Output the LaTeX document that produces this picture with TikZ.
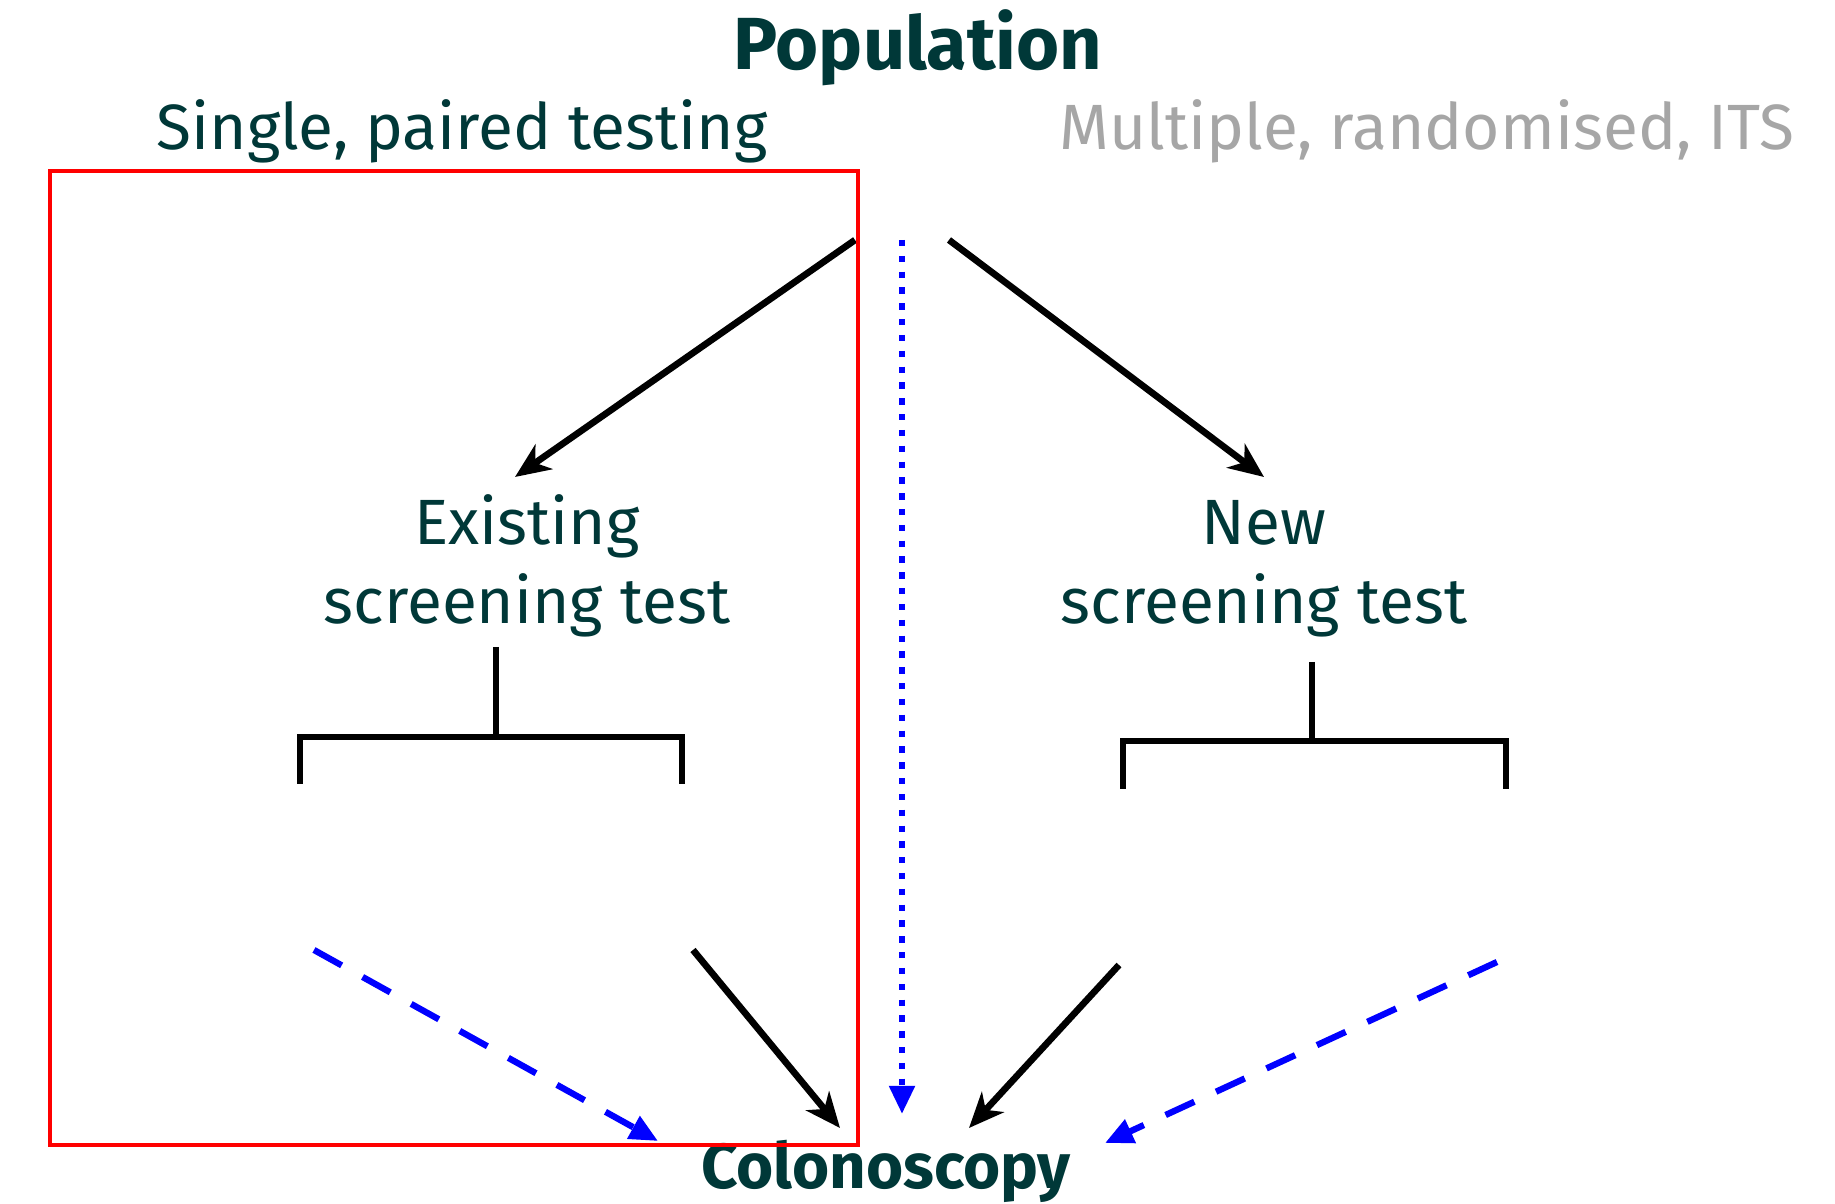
\documentclass[tikz,border=0pt]{standalone}
\usepackage{fontspec}
\setmainfont{Fira Sans}
\usetikzlibrary{arrows.meta}
\definecolor{HeadTeal}{RGB}{0,56,56}
\definecolor{FadeGrey}{RGB}{166,166,166}
\tikzset{
	>={Stealth[length=10pt, width=8.5pt, inset=3pt]},
	flow/.style={black, line width=1.9pt, ->},
	bracket/.style={black, line width=1.8pt},
	crossflow/.style={blue, line width=1.8pt, dash pattern=on 9pt off 6.8pt,
		-{Triangle[length=8pt, width=7pt]}},
	directflow/.style={blue, line width=1.8pt, dash pattern=on 1.8pt off 2.7pt,
		-{Triangle[length=8pt, width=7pt]}},
	studybox/.style={red, line width=1.2pt},
}

\begin{document}
\begin{tikzpicture}[
		x=0.01cm, y=-0.01cm,
		line join=miter,
		title/.style={text=HeadTeal, inner sep=0pt, font=\bfseries\fontsize{21}{25}\selectfont},
		design/.style={inner sep=0pt, font=\fontsize{18.2}{22}\selectfont},
		test/.style={text=HeadTeal, inner sep=0pt, align=center,
			font=\fontsize{18.2}{22.5}\selectfont},
		]
		
		\useasboundingbox (0,0) rectangle (1835,1204);
		
		% Headings
		\node[title, anchor=base] (pop) at (918,70) {Population};
		\node[design, text=HeadTeal, anchor=base] (single) at (462,150) {Single, paired testing};
		\node[design, text=FadeGrey, anchor=base] (multi) at (1427,150) {Multiple, randomised, ITS};
		
		% The two tests (base = last line)
		\node[test, anchor=base] (existing) at (527,624) {Existing\\screening test};
		\node[test, anchor=base] (new) at (1264,624) {New\\screening test};
		
		\node[title, font=\bfseries\fontsize{18.1}{22}\selectfont, anchor=base] (colon) at (886,1189) {Colonoscopy};
		
		% --- free ends of the connectors ---
		\coordinate (popL) at (855,240);
		\coordinate (popM) at (902,240);
		\coordinate (popR) at (949,240);
		\coordinate (exIn) at (515,477);
		\coordinate (newIn) at (1264,477);
		\coordinate (exNeg) at (314,950);
		\coordinate (exPos) at (693,950);
		\coordinate (newPos) at (1119,965);
		\coordinate (newNeg) at (1497,962);
		\coordinate (colA) at (658,1141);
		\coordinate (colB) at (840,1128);
		\coordinate (colC) at (902,1114);
		\coordinate (colD) at (969,1128);
		\coordinate (colE) at (1105,1143);
		
		% Population to the tests
		\draw[flow] (popL) -- (exIn);
		\draw[flow] (popR) -- (newIn);
		\draw[directflow, line cap=butt] (popM) -- (colC);
		
		% Result brackets
		\draw[bracket] (496,647) -- (496,737);
		\draw[bracket] (300,784) -- (300,737) -- (682,737) -- (682,784);
		\draw[bracket] (1312,662) -- (1312,741);
		\draw[bracket] (1123,789) -- (1123,741) -- (1506,741) -- (1506,789);
		
		% Results to colonoscopy
		\draw[crossflow] (exNeg) -- (colA);
		\draw[flow] (exPos) -- (colB);
		\draw[flow] (newPos) -- (colD);
		\draw[crossflow] (newNeg) -- (colE);
		
		% Paired design frame
		\draw[studybox] (50,171) rectangle (858,1145);
		
	\end{tikzpicture}
\end{document}
